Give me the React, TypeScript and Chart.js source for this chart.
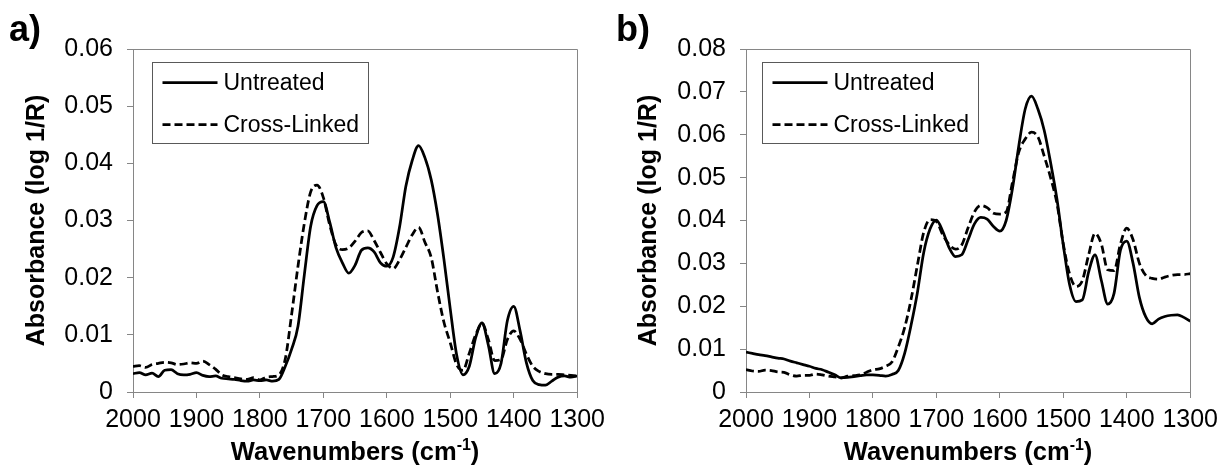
import React, { useEffect, useRef } from 'react';
import { Chart, registerables } from 'chart.js';

Chart.register(...registerables);

// ---------- data ----------
const wavenumbers = [
  2000, 1990, 1980, 1970, 1960, 1950, 1940, 1930, 1920, 1910,
  1900, 1890, 1880, 1870, 1860, 1850, 1840, 1830, 1820, 1810,
  1800, 1790, 1780, 1770, 1760, 1750, 1740, 1730, 1720, 1710,
  1700, 1690, 1680, 1670, 1660, 1650, 1640, 1630, 1620, 1610,
  1600, 1590, 1580, 1570, 1560, 1550, 1540, 1530, 1520, 1510,
  1500, 1490, 1480, 1470, 1460, 1450, 1440, 1430, 1420, 1410,
  1400, 1390, 1380, 1370, 1360, 1350, 1340, 1330, 1320, 1310,
  1300,
];

const untreatedA = [
  0.0032, 0.0034, 0.0030, 0.0033, 0.0027, 0.0038, 0.0039, 0.0032, 0.0030, 0.0031,
  0.0034, 0.0029, 0.0027, 0.0028, 0.0024, 0.0023, 0.0022, 0.0020, 0.0019, 0.0021,
  0.0020, 0.0021, 0.0019, 0.0022, 0.0045, 0.0075, 0.0115, 0.0205, 0.0290, 0.0326,
  0.0333, 0.0297, 0.0252, 0.0226, 0.0208, 0.0222, 0.0248, 0.0252, 0.0245, 0.0226,
  0.0220, 0.0236, 0.0288, 0.0360, 0.0405, 0.0431, 0.0410, 0.0371, 0.0310, 0.0232,
  0.0145, 0.0065, 0.0030, 0.0045, 0.0095, 0.0121, 0.0082, 0.0032, 0.0050, 0.0125,
  0.0150, 0.0107, 0.0051, 0.0020, 0.0013, 0.0012, 0.0019, 0.0026, 0.0028, 0.0026,
  0.0028,
];

const crossLinkedA = [
  0.0045, 0.0046, 0.0043, 0.0048, 0.0050, 0.0052, 0.0051, 0.0048, 0.0049, 0.0051,
  0.0050, 0.0054, 0.0048, 0.0040, 0.0030, 0.0027, 0.0025, 0.0023, 0.0022, 0.0025,
  0.0021, 0.0026, 0.0027, 0.0030, 0.0058, 0.0136, 0.0220, 0.0295, 0.0350, 0.0362,
  0.0340, 0.0292, 0.0257, 0.0249, 0.0252, 0.0264, 0.0279, 0.0282, 0.0265, 0.0244,
  0.0224, 0.0216, 0.0231, 0.0253, 0.0275, 0.0288, 0.0262, 0.0235, 0.0175, 0.0122,
  0.0086, 0.0048, 0.0038, 0.0068, 0.0100, 0.0120, 0.0092, 0.0055, 0.0057, 0.0092,
  0.0107, 0.0092, 0.0066, 0.0045, 0.0036, 0.0032, 0.0031, 0.0031, 0.0030, 0.0029,
  0.0028,
];

const untreatedB = [
  0.0093, 0.0090, 0.0087, 0.0085, 0.0082, 0.0079, 0.0077, 0.0072, 0.0068, 0.0064,
  0.0060, 0.0055, 0.0052, 0.0046, 0.0040, 0.0033, 0.0034, 0.0036, 0.0038, 0.0040,
  0.0040, 0.0039, 0.0037, 0.0041, 0.0050, 0.0090, 0.0155, 0.0231, 0.0325, 0.0380,
  0.0401, 0.0375, 0.0337, 0.0316, 0.0320, 0.0355, 0.0392, 0.0407, 0.0403, 0.0386,
  0.0375, 0.0400, 0.0475, 0.0575, 0.0660, 0.0690, 0.0660, 0.0610, 0.0535, 0.0450,
  0.0343, 0.0250, 0.0211, 0.0215, 0.0280, 0.0320, 0.0260, 0.0205, 0.0230, 0.0330,
  0.0352, 0.0300, 0.0220, 0.0175, 0.0159, 0.0170, 0.0176, 0.0179, 0.0180, 0.0174,
  0.0165,
];

const crossLinkedB = [
  0.0052, 0.0049, 0.0048, 0.0051, 0.0050, 0.0047, 0.0046, 0.0040, 0.0037, 0.0039,
  0.0039, 0.0042, 0.0040, 0.0037, 0.0035, 0.0033, 0.0037, 0.0038, 0.0040, 0.0046,
  0.0052, 0.0054, 0.0060, 0.0070, 0.0105, 0.0150, 0.0215, 0.0295, 0.0372, 0.0402,
  0.0398, 0.0367, 0.0344, 0.0333, 0.0343, 0.0383, 0.0420, 0.0435, 0.0430, 0.0417,
  0.0415, 0.0420, 0.0490, 0.0560, 0.0590, 0.0606, 0.0595, 0.0550, 0.0500, 0.0440,
  0.0345, 0.0275, 0.0246, 0.0260, 0.0320, 0.0370, 0.0345, 0.0285, 0.0283, 0.0345,
  0.0382, 0.0355, 0.0300, 0.0272, 0.0265, 0.0263, 0.0268, 0.0272, 0.0274, 0.0274,
  0.0276,
];

const xTickValues = [2000, 1900, 1800, 1700, 1600, 1500, 1400, 1300];
const yTickValuesA = [0, 0.01, 0.02, 0.03, 0.04, 0.05, 0.06];
const yTickValuesB = [0, 0.01, 0.02, 0.03, 0.04, 0.05, 0.06, 0.07, 0.08];
const seriesLabels = ['Untreated', 'Cross-Linked'];
const panelLabels = ['a)', 'b)'];
const yTitle = 'Absorbance (log 1/R)';
const xTitleMain = 'Wavenumbers (cm';
const xTitleSup = '-1';
const xTitleEnd = ')';

// ---------- styling ----------
const FONT = "'Liberation Sans', Arial, Helvetica, sans-serif";
const AXIS_GRAY = '#868686';
const LEGEND_GRAY = '#595959';

const decorPlugin = {
  id: 'decor',
  afterDraw(chart: any, _args: any, opts: any) {
    const { ctx, chartArea: ca } = chart;
    ctx.save();
    // plot area frame (top and right)
    ctx.strokeStyle = AXIS_GRAY;
    ctx.lineWidth = 1;
    ctx.beginPath();
    ctx.moveTo(ca.left, Math.round(ca.top) + 0.5);
    ctx.lineTo(Math.round(ca.right) + 0.5, Math.round(ca.top) + 0.5);
    ctx.lineTo(Math.round(ca.right) + 0.5, ca.bottom);
    ctx.stroke();

    // legend
    const bx = Math.round(ca.left + opts.legendDx) + 0.5;
    const by = Math.round(ca.top + 13) + 0.5;
    const bw = 216;
    const bh = 81;
    ctx.fillStyle = '#fff';
    ctx.fillRect(bx, by, bw, bh);
    ctx.strokeStyle = LEGEND_GRAY;
    ctx.lineWidth = 1;
    ctx.strokeRect(bx, by, bw, bh);
    const rows = [by + 20, by + 62];
    chart.data.datasets.forEach((ds: any, i: number) => {
      const y = rows[i];
      ctx.strokeStyle = '#000';
      ctx.lineWidth = 2.75;
      ctx.setLineDash(ds.borderDash || []);
      ctx.beginPath();
      ctx.moveTo(bx + 10, y);
      ctx.lineTo(bx + 65, y);
      ctx.stroke();
      ctx.setLineDash([]);
      ctx.fillStyle = '#000';
      ctx.font = `23px ${FONT}`;
      ctx.textAlign = 'left';
      ctx.textBaseline = 'middle';
      ctx.fillText(ds.label, bx + 71, y + 1);
    });

    // panel label
    ctx.fillStyle = '#000';
    ctx.font = `bold 36px ${FONT}`;
    ctx.textAlign = 'left';
    ctx.textBaseline = 'alphabetic';
    ctx.fillText(opts.panelLabel, opts.labelX, 41);

    // y title
    ctx.save();
    ctx.translate(37, (ca.top + ca.bottom) / 2);
    ctx.rotate(-Math.PI / 2);
    ctx.font = `bold 25px ${FONT}`;
    ctx.textAlign = 'center';
    ctx.textBaseline = 'middle';
    ctx.fillText(yTitle, 0, 0);
    ctx.restore();

    // x title with superscript
    ctx.font = `bold 25.5px ${FONT}`;
    const w1 = ctx.measureText(xTitleMain).width;
    const w3 = ctx.measureText(xTitleEnd).width;
    ctx.font = `bold 16px ${FONT}`;
    const w2 = ctx.measureText(xTitleSup).width;
    const total = w1 + w2 + w3;
    let x = (ca.left + ca.right) / 2 - total / 2;
    const base = 460;
    ctx.textAlign = 'left';
    ctx.textBaseline = 'alphabetic';
    ctx.font = `bold 25.5px ${FONT}`;
    ctx.fillText(xTitleMain, x, base);
    x += w1;
    ctx.font = `bold 16px ${FONT}`;
    ctx.fillText(xTitleSup, x, base - 10);
    x += w2;
    ctx.font = `bold 25.5px ${FONT}`;
    ctx.fillText(xTitleEnd, x, base);
    ctx.restore();
  },
};

type PanelCfg = {
  label: string;
  untreated: number[];
  crossLinked: number[];
  yTicks: number[];
  width: number;
  left: number;
  axisWidth: number;
  rightPad: number;
  labelX: number;
  legendDx: number;
};

const panels: PanelCfg[] = [
  {
    label: panelLabels[0], untreated: untreatedA, crossLinked: crossLinkedA, yTicks: yTickValuesA,
    width: 612, left: 0, axisWidth: 133, rightPad: 29, labelX: 9, legendDx: 19,
  },
  {
    label: panelLabels[1], untreated: untreatedB, crossLinked: crossLinkedB, yTicks: yTickValuesB,
    width: 613, left: 612, axisWidth: 134, rightPad: 31, labelX: 4, legendDx: 16,
  },
];

function Panel({ cfg }: { cfg: PanelCfg }) {
  const ref = useRef<HTMLCanvasElement>(null);
  useEffect(() => {
    if (!ref.current) return;
    const yMax = cfg.yTicks[cfg.yTicks.length - 1];
    const chart = new Chart(ref.current, {
      type: 'line',
      data: {
        datasets: [
          {
            label: seriesLabels[0],
            data: wavenumbers.map((x, i) => ({ x, y: cfg.untreated[i] })),
            borderColor: '#000',
            borderWidth: 2.75,
            pointRadius: 0,
            cubicInterpolationMode: 'monotone',
            fill: false,
          },
          {
            label: seriesLabels[1],
            data: wavenumbers.map((x, i) => ({ x, y: cfg.crossLinked[i] })),
            borderColor: '#000',
            borderWidth: 2.75,
            borderDash: [8, 4],
            pointRadius: 0,
            cubicInterpolationMode: 'monotone',
            fill: false,
          },
        ],
      },
      options: {
        animation: false,
        responsive: false,
        devicePixelRatio: 1,
        events: [],
        layout: { padding: { top: 49, right: cfg.rightPad, left: 0, bottom: 0 } },
        plugins: {
          legend: { display: false },
          tooltip: { enabled: false },
          decor: { panelLabel: cfg.label, labelX: cfg.labelX, legendDx: cfg.legendDx },
        } as any,
        scales: {
          x: {
            type: 'linear',
            reverse: true,
            min: 1300,
            max: 2000,
            afterBuildTicks: (s: any) => {
              s.ticks = xTickValues.map((v) => ({ value: v }));
            },
            afterFit: (s: any) => {
              s.height = 75;
            },
            ticks: {
              font: { family: FONT, size: 25 },
              color: '#000',
              padding: 7,
              maxRotation: 0,
              autoSkip: false,
              callback: (v: any) => String(v),
            },
            grid: { drawOnChartArea: false, tickLength: 6, color: AXIS_GRAY, lineWidth: 1 },
            border: { display: true, color: AXIS_GRAY, width: 1 },
          },
          y: {
            type: 'linear',
            min: 0,
            max: yMax,
            afterBuildTicks: (s: any) => {
              s.ticks = cfg.yTicks.map((v) => ({ value: v }));
            },
            afterFit: (s: any) => {
              s.width = cfg.axisWidth;
            },
            ticks: {
              font: { family: FONT, size: 25 },
              color: '#000',
              padding: 14,
              autoSkip: false,
              callback: (v: any) => (v === 0 ? '0' : Number(v).toFixed(2)),
            },
            grid: { drawOnChartArea: false, tickLength: 6, color: AXIS_GRAY, lineWidth: 1 },
            border: { display: true, color: AXIS_GRAY, width: 1 },
          },
        },
      } as any,
      plugins: [decorPlugin],
    });
    return () => chart.destroy();
  }, [cfg]);
  return (
    <canvas
      ref={ref}
      width={cfg.width}
      height={467}
      style={{ position: 'absolute', left: cfg.left, top: 0, width: cfg.width, height: 467 }}
    />
  );
}

export default function App() {
  return (
    <div style={{ position: 'fixed', left: 0, top: 0, width: 1225, height: 467, background: '#fff', overflow: 'hidden' }}>
      {panels.map((p) => (
        <Panel key={p.label} cfg={p} />
      ))}
    </div>
  );
}
